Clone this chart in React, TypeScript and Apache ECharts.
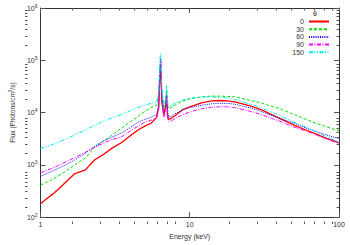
import React, { useEffect, useRef } from "react";
import * as echarts from "echarts";

const energy = [1, 1.1, 1.2, 1.3, 1.5, 1.7, 2, 2.3, 2.6, 3, 3.5, 4, 4.5, 5, 5.5, 6, 6.2, 6.3, 6.4, 6.5, 6.7, 6.9, 7.0, 7.1, 7.2, 7.5, 8, 9, 10, 12, 14, 16, 18, 20, 25, 30, 40, 50, 60, 70, 80, 100];

const flux0 = [180, 225, 272, 330, 484, 680, 800, 1240, 1530, 2065, 2670, 3590, 4640, 5500, 6250, 8070, 13000, 46000, 63000, 16000, 9100, 13000, 20000, 9000, 7400, 7700, 8800, 11400, 12900, 15300, 16700, 17000, 16700, 16000, 13500, 11400, 7750, 5750, 4640, 3900, 3300, 2670];
const flux30 = [410, 464, 525, 600, 775, 1000, 1350, 2150, 2780, 3670, 5060, 6670, 8430, 10500, 12400, 14000, 20000, 71000, 109000, 24000, 11800, 16700, 27800, 14000, 11800, 12400, 14000, 16700, 18200, 20000, 20600, 20600, 20300, 20000, 17300, 15300, 11860, 9190, 7410, 6250, 5500, 4450];
const flux60 = [600, 680, 760, 843, 1020, 1240, 1670, 2250, 2780, 3370, 4080, 5160, 6530, 7410, 8070, 9190, 14000, 57000, 84000, 20000, 9550, 12900, 22300, 10900, 8430, 8430, 9550, 11400, 12400, 13800, 14700, 15000, 15000, 14400, 12400, 10500, 7750, 6250, 5070, 4350, 3830, 3160];
const flux90 = [710, 774, 861, 957, 1160, 1380, 1740, 2150, 2550, 3030, 3440, 4450, 5500, 6530, 7110, 8070, 11860, 71000, 109000, 20000, 8070, 10900, 20000, 8430, 6810, 6810, 7750, 9190, 10200, 11860, 12600, 12900, 12900, 12400, 10700, 9190, 6810, 5270, 4450, 3750, 3230, 2550];
const flux150 = [2050, 2250, 2450, 2670, 3160, 3750, 4640, 5750, 6670, 7900, 9190, 10900, 12400, 13800, 15000, 16000, 24500, 100000, 135000, 30000, 14000, 20000, 34400, 16000, 12900, 13500, 15300, 17300, 18600, 20000, 20000, 19500, 19000, 17800, 14700, 12400, 8800, 6530, 5270, 4260, 3590, 2670];

const seriesNames = ["0", "30", "60", "90", "150"];
const seriesValues = [flux0, flux30, flux60, flux90, flux150];
const seriesColors = ["#ff0000", "#00e000", "#0000ff", "#ff00ff", "#00e8e8"];
const seriesDash: any[] = ["solid", [3, 2], [1, 1.2], [4, 1.5, 1, 1.5], [4, 1.5, 1, 1.5, 1, 1.5]];
const seriesWidth = [1.3, 1, 1, 1, 1];

const xMajor = [1, 10, 100];
const xMinor = [2, 3, 4, 5, 6, 7, 8, 9, 20, 30, 40, 50, 60, 70, 80, 90];
const yMajor = [1e2, 1e3, 1e4, 1e5, 1e6];
const yMinor: number[] = [];
[1e2, 1e3, 1e4, 1e5].forEach((d) => {
  for (let k = 2; k <= 9; k++) yMinor.push(d * k);
});

export default function App() {
  const ref = useRef<HTMLDivElement>(null);
  useEffect(() => {
    document.body.style.margin = "0";
    const chart = echarts.init(ref.current!, null, { renderer: "svg" });
    const font = "Liberation Sans, Arial, sans-serif";
    const frame = { show: true, lineStyle: { color: "#333", width: 1 } };
    const gridPos = { left: 25, right: 11, top: 8, bottom: 21, containLabel: false };
    const baseX = { type: "log", logBase: 10, min: 1, max: 100, splitLine: { show: false } };
    const baseY = { type: "log", logBase: 10, min: 100, max: 1e6, splitLine: { show: false } };
    const option: any = {
      animation: false,
      backgroundColor: "#fff",
      textStyle: { fontFamily: font },
      grid: [gridPos, gridPos],
      xAxis: [
        {
          ...baseX, gridIndex: 0, position: "bottom",
          axisLine: frame,
          axisTick: { show: true, inside: true, length: 5, customValues: xMajor, lineStyle: { color: "#555" } },
          axisLabel: { show: true, customValues: xMajor, fontSize: 7, color: "#333", margin: 4, fontFamily: font },
          name: "Energy (keV)", nameLocation: "middle", nameGap: 13,
          nameTextStyle: { fontSize: 7, color: "#333", fontFamily: font },
        },
        {
          ...baseX, gridIndex: 0, position: "top",
          axisLine: frame,
          axisTick: { show: true, inside: true, length: 5, customValues: xMajor, lineStyle: { color: "#555" } },
          axisLabel: { show: false },
        },
        {
          ...baseX, gridIndex: 1, position: "bottom",
          axisLine: { show: false },
          axisTick: { show: true, inside: true, length: 2.5, customValues: xMinor, lineStyle: { color: "#555" } },
          axisLabel: { show: false },
        },
        {
          ...baseX, gridIndex: 1, position: "top",
          axisLine: { show: false },
          axisTick: { show: true, inside: true, length: 2.5, customValues: xMinor, lineStyle: { color: "#555" } },
          axisLabel: { show: false },
        },
      ],
      yAxis: [
        {
          ...baseY, gridIndex: 0, position: "left",
          axisLine: frame,
          axisTick: { show: true, inside: true, length: 5, customValues: yMajor, lineStyle: { color: "#555" } },
          axisLabel: {
            show: true, customValues: yMajor, fontSize: 7, color: "#333", margin: 3, fontFamily: font,
            formatter: (v: number) => `10{sup|${Math.round(Math.log10(v))}}`,
            rich: { sup: { fontSize: 5, padding: [0, 0, 5, 0], color: "#333", fontFamily: font } },
          },
          name: "Flux (Photons/cm{sup|2}/s)", nameLocation: "middle", nameGap: 16,
          nameTextStyle: {
            fontSize: 6.5, color: "#333", fontFamily: font,
            rich: { sup: { fontSize: 4.5, padding: [0, 0, 4, 0], color: "#333", fontFamily: font } },
          },
        },
        {
          ...baseY, gridIndex: 0, position: "right",
          axisLine: frame,
          axisTick: { show: true, inside: true, length: 5, customValues: yMajor, lineStyle: { color: "#555" } },
          axisLabel: { show: false },
        },
        {
          ...baseY, gridIndex: 1, position: "left",
          axisLine: { show: false },
          axisTick: { show: true, inside: true, length: 2.5, customValues: yMinor, lineStyle: { color: "#555" } },
          axisLabel: { show: false },
        },
        {
          ...baseY, gridIndex: 1, position: "right",
          axisLine: { show: false },
          axisTick: { show: true, inside: true, length: 2.5, customValues: yMinor, lineStyle: { color: "#555" } },
          axisLabel: { show: false },
        },
      ],
      legend: {
        orient: "vertical", right: 20, top: 18, align: "right", padding: 0,
        itemWidth: 20, itemHeight: 6, itemGap: 0.7,
        data: seriesNames,
        itemStyle: { opacity: 0 },
        textStyle: { fontSize: 7, color: "#333", width: 18, align: "right", lineHeight: 6.5, fontFamily: font },
      },
      graphic: [
        { type: "text", left: 313, top: 10, style: { text: "θ", fontSize: 7, fill: "#333", fontFamily: font } },
      ],
      series: seriesNames.map((name, i) => ({
        name,
        type: "line",
        xAxisIndex: 0,
        yAxisIndex: 0,
        symbol: "none",
        data: energy.map((e, j) => [e, seriesValues[i][j]]),
        lineStyle: { color: seriesColors[i], width: seriesWidth[i], type: seriesDash[i] },
        itemStyle: { color: seriesColors[i] },
      })),
    };
    chart.setOption(option);
    return () => chart.dispose();
  }, []);
  return <div ref={ref} style={{ width: 350, height: 245 }} />;
}
